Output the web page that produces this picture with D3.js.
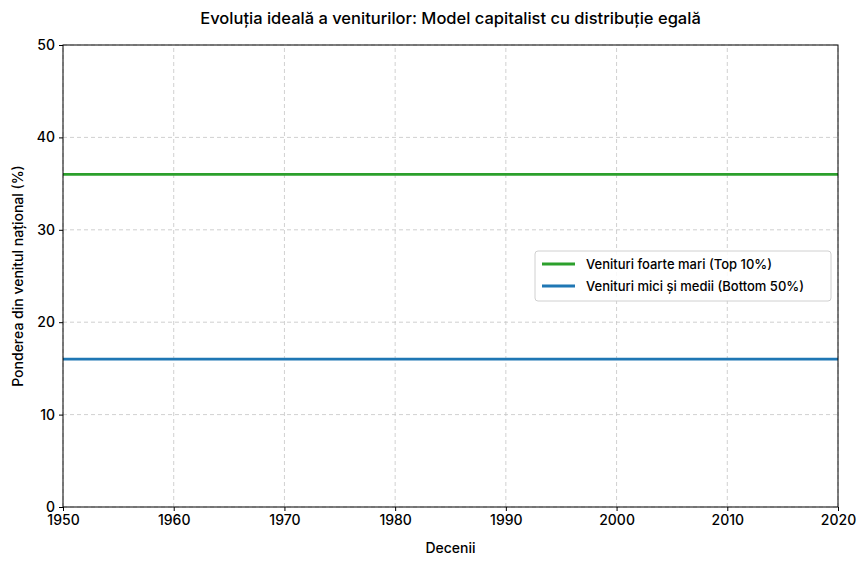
<!DOCTYPE html>
<html>
<head>
<meta charset="utf-8">
<script src="https://cdn.jsdelivr.net/npm/d3@7"></script>
<style>
  body { margin: 0; background: #fff; }
  text { font-family: "Inter", "Noto Sans", sans-serif; font-weight: 500; }
</style>
</head>
<body>
<div id="chart"></div>
<script>
const decades = [1950, 1960, 1970, 1980, 1990, 2000, 2010, 2020];
const topShare = [36, 36, 36, 36, 36, 36, 36, 36];
const bottomShare = [16, 16, 16, 16, 16, 16, 16, 16];
const seriesNames = ["Venituri foarte mari (Top 10%)", "Venituri mici și medii (Bottom 50%)"];
const yTicks = [0, 10, 20, 30, 40, 50];

const width = 867, height = 564;
const margin = {top: 45, right: 29, bottom: 57, left: 63};

const svg = d3.select("#chart").append("svg")
    .attr("width", width)
    .attr("height", height);

const x = d3.scaleLinear().domain([1950, 2020]).range([margin.left, width - margin.right]);
const y = d3.scaleLinear().domain([0, 50]).range([height - margin.bottom, margin.top]);

// grid
const grid = svg.append("g");
grid.selectAll(".gx").data(decades).enter().append("line")
    .attr("x1", d => x(d)).attr("x2", d => x(d))
    .attr("y1", y(0)).attr("y2", y(50))
    .attr("stroke", "#c4c4c4").attr("stroke-dasharray", "4,3").attr("stroke-width", 0.8);
grid.selectAll(".gy").data(yTicks).enter().append("line")
    .attr("y1", d => y(d)).attr("y2", d => y(d))
    .attr("x1", x(1950)).attr("x2", x(2020))
    .attr("stroke", "#c4c4c4").attr("stroke-dasharray", "4,3").attr("stroke-width", 0.8);

// lines
const line = d3.line().x((d, i) => x(decades[i])).y(d => y(d));
svg.append("path").datum(topShare).attr("d", line)
    .attr("fill", "none").attr("stroke", "#2ca02c").attr("stroke-width", 2.8);
svg.append("path").datum(bottomShare).attr("d", line)
    .attr("fill", "none").attr("stroke", "#1f77b4").attr("stroke-width", 2.8);

// frame
svg.append("rect")
    .attr("x", margin.left).attr("y", margin.top)
    .attr("width", width - margin.left - margin.right)
    .attr("height", height - margin.top - margin.bottom)
    .attr("fill", "none").attr("stroke", "#000").attr("stroke-width", 1);

// axes
const xAxis = svg.append("g")
    .attr("transform", `translate(0,${y(0)})`)
    .call(d3.axisBottom(x).tickValues(decades).tickFormat(d3.format("d")).tickSize(4).tickPadding(4));
const yAxis = svg.append("g")
    .attr("transform", `translate(${x(1950)},0)`)
    .call(d3.axisLeft(y).tickValues(yTicks).tickSize(4).tickPadding(4));
[xAxis, yAxis].forEach(a => {
    a.select(".domain").remove();
    a.selectAll("text").attr("font-size", 14).attr("fill", "#000");
    a.selectAll("line").attr("stroke", "#000");
});

// labels
svg.append("text")
    .attr("x", (margin.left + width - margin.right) / 2).attr("y", 553)
    .attr("text-anchor", "middle").attr("font-size", 14).text("Decenii");
svg.append("text")
    .attr("transform", `translate(23,${(margin.top + height - margin.bottom) / 2}) rotate(-90)`)
    .attr("text-anchor", "middle").attr("font-size", 14).text("Ponderea din venitul național (%)");
svg.append("text")
    .attr("x", (margin.left + width - margin.right) / 2).attr("y", 24)
    .attr("text-anchor", "middle").attr("font-size", 16.5).text("Evoluția ideală a veniturilor: Model capitalist cu distribuție egală");

// legend
const lg = svg.append("g").attr("transform", "translate(535,251)");
lg.append("rect").attr("width", 296).attr("height", 50).attr("rx", 3)
    .attr("fill", "#fff").attr("fill-opacity", 0.85).attr("stroke", "#d0d0d0");
const colors = ["#2ca02c", "#1f77b4"];
seriesNames.forEach((name, i) => {
    const yy = 13 + i * 22;
    lg.append("line").attr("x1", 7).attr("x2", 40).attr("y1", yy).attr("y2", yy)
        .attr("stroke", colors[i]).attr("stroke-width", 2.8);
    lg.append("text").attr("x", 51).attr("y", yy).attr("dy", "0.35em")
        .attr("font-size", 13).text(name);
});
</script>
</body>
</html>
